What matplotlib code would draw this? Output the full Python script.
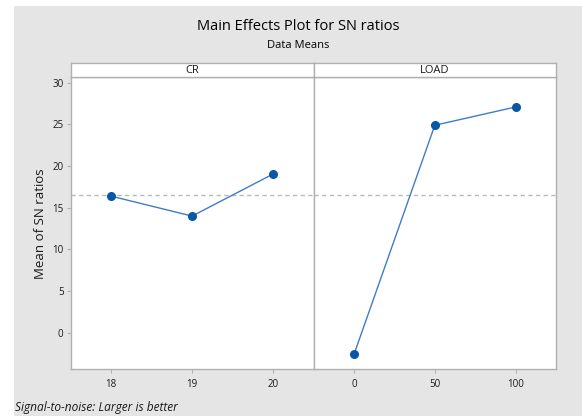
import numpy as np
import matplotlib.pyplot as plt
from matplotlib.patches import Rectangle

# data
cr_levels = [18, 19, 20]
cr_means = [16.4, 14.0, 19.05]
load_levels = [0, 50, 100]
load_means = [-2.6, 24.9, 27.1]
y_ticks = [0, 5, 10, 15, 20, 25, 30]

grand_mean = np.mean(cr_means + load_means)

plt.rcParams['font.family'] = ['Open Sans', 'DejaVu Sans']

W, H = 582, 416
fig = plt.figure(figsize=(W / 100, H / 100), dpi=100, facecolor='white')

# gray background panel
fig.patches.append(Rectangle((14 / W, 0), 1 - 14 / W, 1 - 6 / H,
                             transform=fig.transFigure, facecolor='#e5e5e5',
                             edgecolor='none', zorder=-5))

edge = '#b0b0b0'
line_col = '#3f7cc8'
mark_col = '#0a56a8'
txt = '#1a1a1a'

left, mid, right = 70.5, 313.6, 556
bottom_px, top_px, strip_top = 369.3, 77.3, 62.7

ylim = (-4.39, 30.66)

panels = [
    ("CR", cr_levels, cr_means, (17.5, 20.5), cr_levels),
    ("LOAD", load_levels, load_means, (-25, 125), load_levels),
]
bounds = [(left, mid), (mid, right)]

for i, ((name, xs, ys, xlim, xt), (x0, x1)) in enumerate(zip(panels, bounds)):
    ax = fig.add_axes([x0 / W, 1 - bottom_px / H, (x1 - x0) / W, (bottom_px - top_px) / H])
    ax.set_facecolor('white')
    ax.plot(xs, ys, color=line_col, lw=1.0, marker='o', ms=5.5,
            mfc=mark_col, mec=mark_col, zorder=3)
    ax.axhline(grand_mean, color='#b8b8b8', lw=1.0, ls=(0, (3, 2.5)), zorder=1)
    ax.set_xlim(xlim)
    ax.set_ylim(ylim)
    ax.set_xticks(xt)
    ax.set_xticklabels([str(v) for v in xt])
    for s in ax.spines.values():
        s.set_color(edge)
        s.set_linewidth(1.0)
    ax.tick_params(axis='x', length=3, color=edge, labelsize=7, pad=4, labelcolor=txt)
    if i == 0:
        ax.set_yticks(y_ticks)
        ax.tick_params(axis='y', length=3, color=edge, labelsize=7, pad=2, labelcolor=txt)
        ax.set_ylabel("Mean of SN ratios", fontsize=9.5, labelpad=4, color=txt)
    else:
        ax.set_yticks([])

    # strip header
    sx = fig.add_axes([x0 / W, 1 - top_px / H, (x1 - x0) / W, (top_px - strip_top) / H])
    sx.set_facecolor('white')
    sx.set_xticks([])
    sx.set_yticks([])
    for s in sx.spines.values():
        s.set_color(edge)
        s.set_linewidth(1.0)
    sx.text(0.5, 0.45, name, ha='center', va='center', fontsize=8,
            color=txt, transform=sx.transAxes)

fig.text(298 / W, 1 - 27 / H, "Main Effects Plot for SN ratios", ha='center',
         va='center', fontsize=10.5, color='#000000')
fig.text(298 / W, 1 - 45 / H, "Data Means", ha='center', va='center',
         fontsize=8, color='#000000')
fig.text(15 / W, 1 - 408 / H, "Signal-to-noise: Larger is better", ha='left',
         va='center', fontsize=8.6, style='italic', color=txt)

fig.savefig("out.png", dpi=100, facecolor=fig.get_facecolor())
